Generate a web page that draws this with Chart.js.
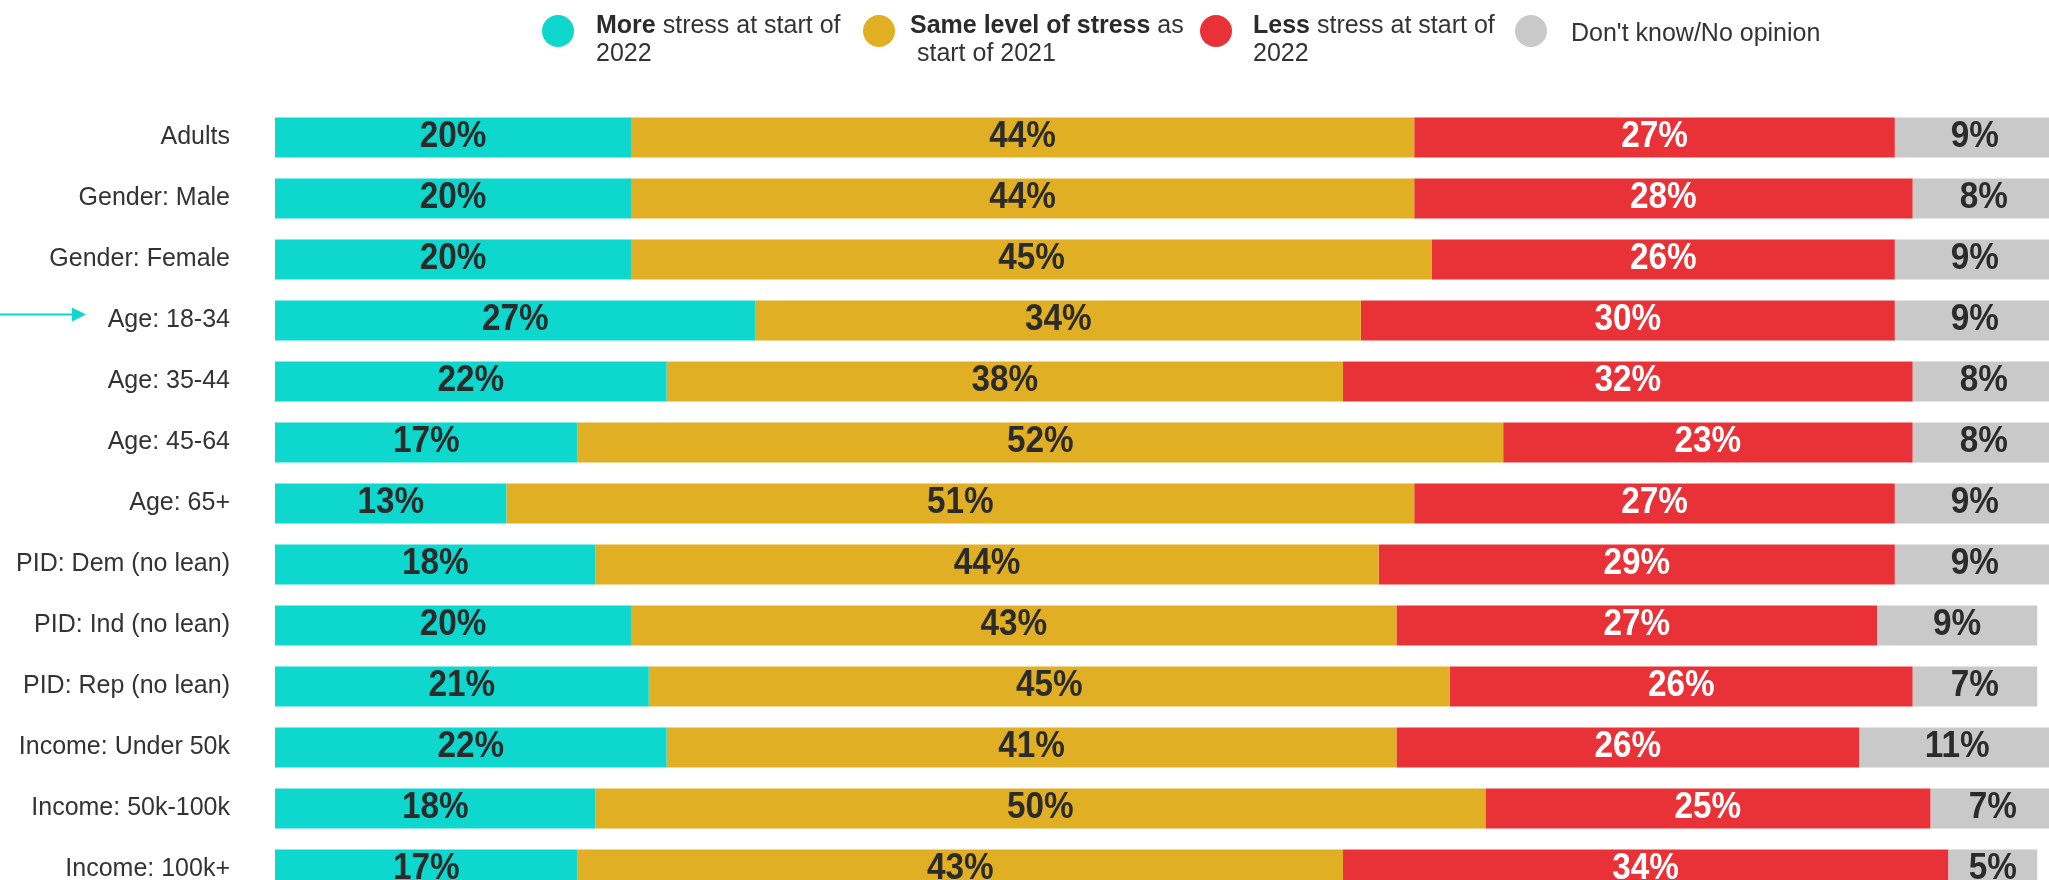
<!DOCTYPE html>
<html lang="en">
<head>
  <meta charset="UTF-8">
  <title>Stress at start of 2022 vs start of 2021</title>
  <script src="https://cdn.jsdelivr.net/npm/chart.js"></script>
  <style>
    html, body { margin: 0; padding: 0; background: #fff; overflow: hidden; }
    body { width: 2049px; height: 880px; position: relative; font-family: "Liberation Sans", Arial, sans-serif; color: #333; }
    .chart-box { position: absolute; left: 0; top: 0; width: 2055px; height: 900px; }
    .chart-box canvas { display: block; }
    .dot { position: absolute; top: 15px; width: 32px; height: 32px; border-radius: 50%; }
    .legend-text { position: absolute; top: 10px; font-size: 25px; line-height: 28px; white-space: nowrap; color: #333; }
    .legend-text b { color: #2b2b2b; }
  </style>
</head>
<body>
  <div class="chart-box">
    <canvas id="stressChart"></canvas>
  </div>

  <!-- legend: bold lead words, so built by hand instead of the chart legend -->
  <div class="dot" style="left:542px" id="dot0"></div>
  <div class="legend-text" style="left:596px"><b>More</b> stress at start of<br>2022</div>
  <div class="dot" style="left:863px" id="dot1"></div>
  <div class="legend-text" style="left:910px"><b>Same level of stress</b> as<br>&nbsp;start of 2021</div>
  <div class="dot" style="left:1200px" id="dot2"></div>
  <div class="legend-text" style="left:1253px"><b>Less</b> stress at start of<br>2022</div>
  <div class="dot" style="left:1515px" id="dot3"></div>
  <div class="legend-text" style="left:1571px; top:18px">Don't know/No opinion</div>

<script>
const categories = [
  'Adults', 'Gender: Male', 'Gender: Female', 'Age: 18-34', 'Age: 35-44',
  'Age: 45-64', 'Age: 65+', 'PID: Dem (no lean)', 'PID: Ind (no lean)',
  'PID: Rep (no lean)', 'Income: Under 50k', 'Income: 50k-100k', 'Income: 100k+'
];
const moreStress = [20, 20, 20, 27, 22, 17, 13, 18, 20, 21, 22, 18, 17];
const sameStress = [44, 44, 45, 34, 38, 52, 51, 44, 43, 45, 41, 50, 43];
const lessStress = [27, 28, 26, 30, 32, 23, 27, 29, 27, 26, 26, 25, 34];
const dontKnow   = [9, 8, 9, 9, 8, 8, 9, 9, 9, 7, 11, 7, 5];

const seriesNames = [
  'More stress at start of 2022',
  'Same level of stress as start of 2021',
  'Less stress at start of 2022',
  "Don't know/No opinion"
];
const seriesColors = ['#0ed7cd', '#e1af23', '#e83238', '#c9c9c9'];
const labelColors = ['#2b2b2b', '#2b2b2b', '#ffffff', '#2b2b2b'];
const highlightRow = 'Age: 18-34';

seriesColors.forEach((c, i) => {
  document.getElementById('dot' + i).style.background = c;
});

const FONT = '"Liberation Sans", Arial, sans-serif';

// percentage printed in the middle of each segment (slightly narrowed bold type)
const valueLabels = {
  id: 'valueLabels',
  afterDatasetsDraw(chart) {
    const ctx = chart.ctx;
    chart.data.datasets.forEach((ds, i) => {
      chart.getDatasetMeta(i).data.forEach((bar, j) => {
        ctx.save();
        ctx.translate((bar.x + bar.base) / 2, bar.y - 1);
        ctx.scale(0.9, 1);
        ctx.font = 'bold 37px ' + FONT;
        ctx.textAlign = 'center';
        ctx.textBaseline = 'middle';
        ctx.fillStyle = labelColors[i];
        ctx.fillText(ds.data[j] + '%', 0, 0);
        ctx.restore();
      });
    });
  }
};

// little arrow pointing at the highlighted row
const rowArrow = {
  id: 'rowArrow',
  afterDraw(chart) {
    const ctx = chart.ctx;
    const y = chart.scales.y.getPixelForValue(categories.indexOf(highlightRow)) - 6;
    ctx.save();
    ctx.strokeStyle = seriesColors[0];
    ctx.fillStyle = seriesColors[0];
    ctx.lineWidth = 2;
    ctx.beginPath();
    ctx.moveTo(0, y);
    ctx.lineTo(74, y);
    ctx.stroke();
    ctx.beginPath();
    ctx.moveTo(72, y - 7);
    ctx.lineTo(86, y);
    ctx.lineTo(72, y + 7);
    ctx.closePath();
    ctx.fill();
    ctx.restore();
  }
};

const seriesData = [moreStress, sameStress, lessStress, dontKnow];

new Chart(document.getElementById('stressChart'), {
  type: 'bar',
  data: {
    labels: categories,
    datasets: seriesData.map((d, i) => ({
      label: seriesNames[i],
      data: d,
      backgroundColor: seriesColors[i],
      borderWidth: 0,
      barPercentage: 40 / 61,
      categoryPercentage: 1
    }))
  },
  options: {
    indexAxis: 'y',
    responsive: true,
    maintainAspectRatio: false,
    animation: false,
    devicePixelRatio: 1,
    layout: { padding: { top: 107, bottom: 0, left: 0, right: 0 } },
    plugins: {
      legend: { display: false },
      tooltip: { enabled: false }
    },
    scales: {
      x: { stacked: true, min: 0, max: 100, display: false },
      y: {
        stacked: true,
        grid: { display: false, drawTicks: false },
        border: { display: false },
        ticks: { color: '#333', font: { family: FONT, size: 25 }, padding: 45 },
        afterFit(scale) {
          // fixed gutter for the row names; the tick padding should not eat vertical room
          scale.width = 275;
          scale.paddingTop = 0;
          scale.paddingBottom = 0;
        }
      }
    }
  },
  plugins: [valueLabels, rowArrow]
});
</script>
</body>
</html>
